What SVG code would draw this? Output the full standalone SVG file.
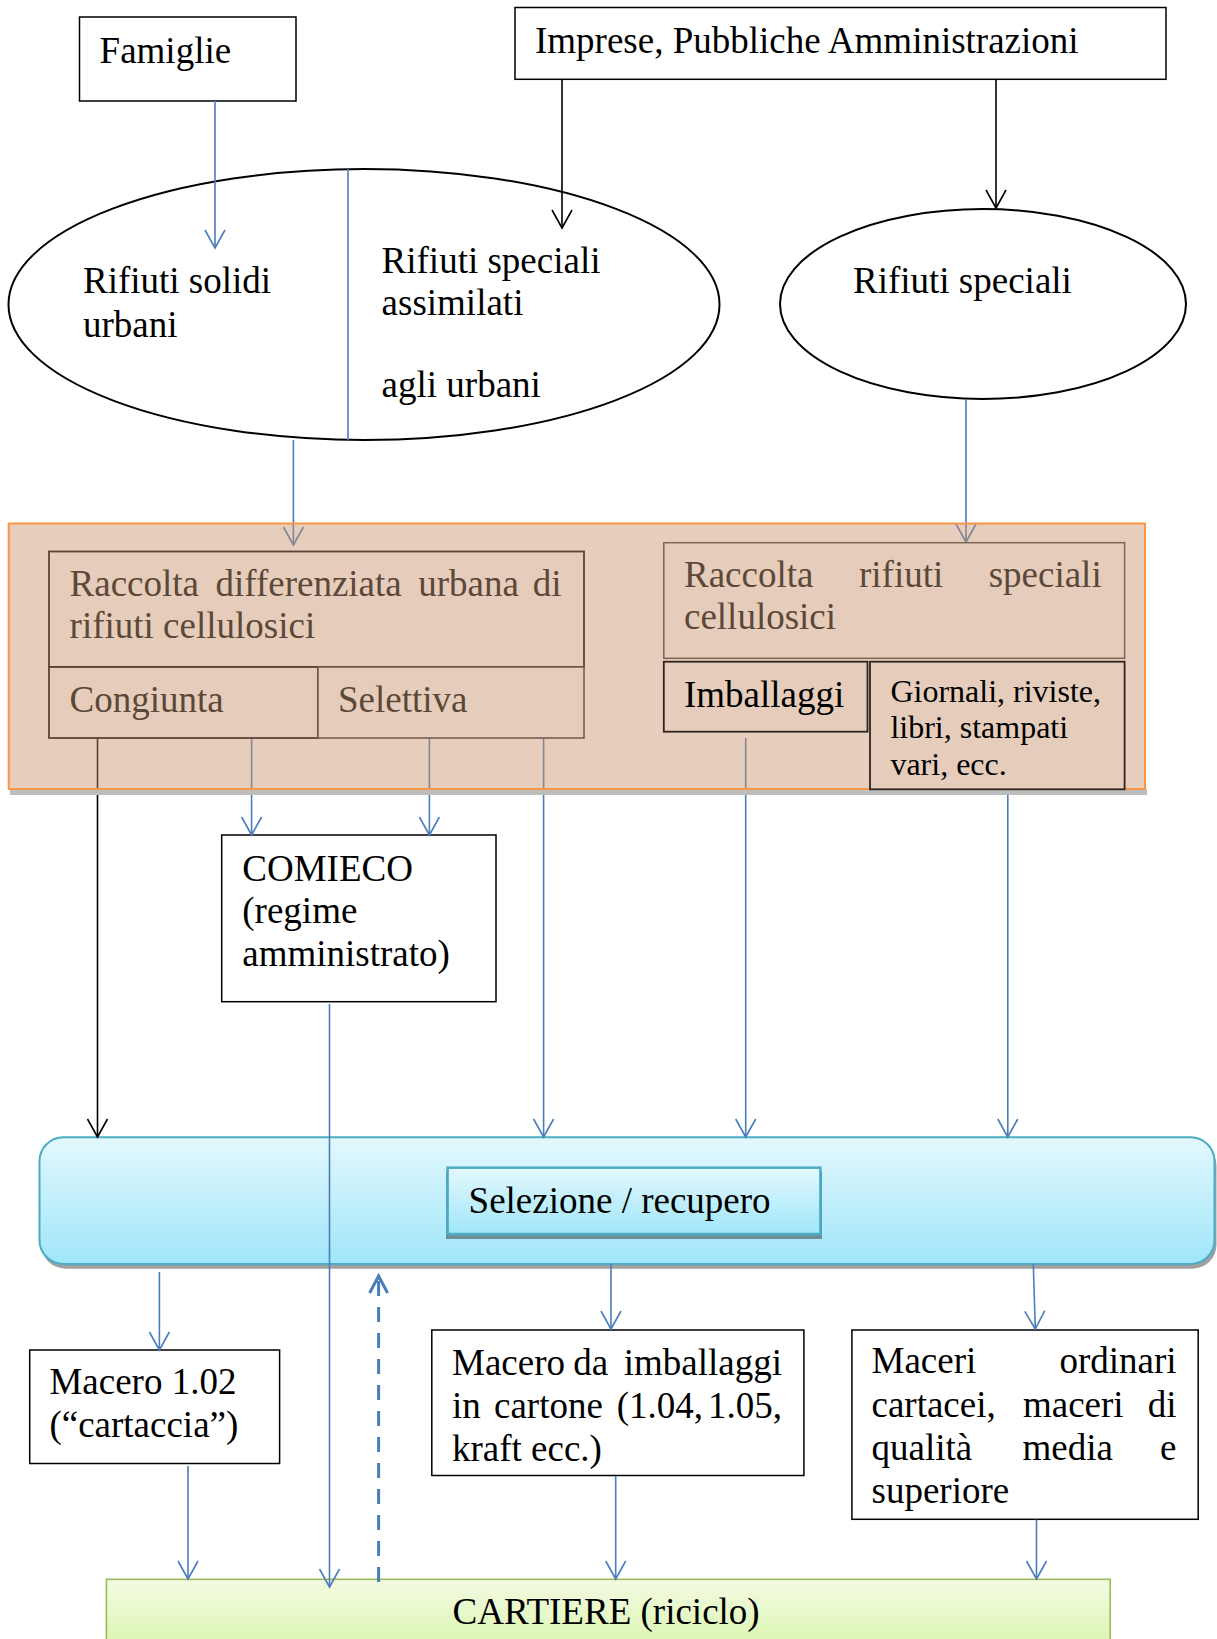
<svg xmlns="http://www.w3.org/2000/svg" width="1217" height="1639" viewBox="0 0 1217 1639">
<style>
text{font-family:"Liberation Serif","Times New Roman",serif;font-size:37px;fill:#000}
.br{fill:#5C4838}
.sm{font-size:32px}
.box{fill:#fff;stroke:#000;stroke-width:1.5}
.ell{fill:#fff;stroke:#000;stroke-width:2}
.blue{stroke:#4A7EBB;stroke-width:1.6;fill:none}
.blk{stroke:#000;stroke-width:1.6;fill:none}
</style>
<defs>
<marker id="ab" markerUnits="userSpaceOnUse" viewBox="-20 -12 22 24" refX="0" refY="0" markerWidth="22" markerHeight="24" orient="auto" overflow="visible"><path d="M-18,-10 L0,0 L-18,10" fill="none" stroke="#4A7EBB" stroke-width="1.6"/></marker>
<marker id="ak" markerUnits="userSpaceOnUse" viewBox="-20 -12 22 24" refX="0" refY="0" markerWidth="22" markerHeight="24" orient="auto" overflow="visible"><path d="M-18,-10 L0,0 L-18,10" fill="none" stroke="#000" stroke-width="1.6"/></marker>
<marker id="at" markerUnits="userSpaceOnUse" viewBox="-20 -12 22 24" refX="0" refY="0" markerWidth="22" markerHeight="24" orient="auto" overflow="visible"><path d="M-17,-9 L0,0 L-17,9" fill="none" stroke="#4A7EBB" stroke-width="3"/></marker>
<linearGradient id="gb" x1="0" y1="0" x2="0" y2="1"><stop offset="0" stop-color="#E3F8FD"/><stop offset="1" stop-color="#A0E6FA"/></linearGradient>
<linearGradient id="gg" x1="0" y1="0" x2="0" y2="1"><stop offset="0" stop-color="#F3FBE2"/><stop offset="1" stop-color="#DAF5AE"/></linearGradient>
</defs>

<g id="famiglie"><rect class="box" x="79.5" y="17" width="216.5" height="84"/><text x="99.6" y="62.7">Famiglie</text></g>
<g id="imprese"><rect class="box" x="515" y="7.5" width="651" height="71.8"/><text x="535" y="53.3">Imprese, Pubbliche Amministrazioni</text></g>

<g id="rifiuti-urbani">
<ellipse class="ell" cx="364" cy="304.5" rx="355.5" ry="135.5"/>
<line x1="348" y1="169" x2="348" y2="440" stroke="#4A7EBB" stroke-width="1.6"/>
<text x="83" y="293">Rifiuti solidi</text><text x="83" y="337">urbani</text>
<text x="381.6" y="273">Rifiuti speciali</text><text x="381.6" y="315">assimilati</text><text x="381.6" y="397">agli urbani</text>
</g>
<g id="rifiuti-speciali"><ellipse class="ell" cx="983" cy="304" rx="203" ry="95" stroke-width="1.5"/><text x="853" y="293">Rifiuti speciali</text></g>

<g id="comieco"><rect class="box" x="221.7" y="835" width="274.3" height="166.7"/>
<text x="242.3" y="881">COMIECO</text><text x="242.3" y="923.3">(regime</text><text x="242.3" y="965.7">amministrato)</text></g>

<g id="selezione">
<rect x="41.5" y="1142" width="1175" height="126.7" rx="24" fill="#A0A0A0"/>
<rect x="39.5" y="1137.3" width="1175" height="126.7" rx="24" fill="url(#gb)" stroke="#4BACC6" stroke-width="2"/>
<rect x="446" y="1172" width="376" height="67" fill="#6E8F9A"/>
<rect x="447.6" y="1167.7" width="372.8" height="66.3" fill="url(#gb)" stroke="#4BACC6" stroke-width="2.5"/>
<text x="468.6" y="1213.3">Selezione / recupero</text>
</g>

<g id="macero-102"><rect class="box" x="29.7" y="1350" width="249.9" height="113.5" stroke-width="2"/>
<text x="49.4" y="1394">Macero 1.02</text><text x="49.4" y="1436.7">(“cartaccia”)</text></g>

<g id="macero-imballaggi"><rect class="box" x="431.8" y="1330" width="372.1" height="145.5" stroke="#333"/>
<text x="452" y="1375">Macero</text><text x="573.3" y="1375">da</text><text x="782" y="1375" text-anchor="end">imballaggi</text>
<text x="452" y="1418.3">in</text><text x="494" y="1418.3">cartone</text><text x="616.7" y="1418.3">(1.04,</text><text x="782" y="1418.3" text-anchor="end">1.05,</text>
<text x="452" y="1460.5">kraft ecc.)</text></g>

<g id="maceri-ordinari"><rect class="box" x="851.9" y="1330" width="346.3" height="189.3" stroke="#333"/>
<text x="871.5" y="1373.3">Maceri</text><text x="1176.5" y="1373.3" text-anchor="end">ordinari</text>
<text x="871.5" y="1416.7">cartacei,</text><text x="1023" y="1416.7">maceri</text><text x="1176.5" y="1416.7" text-anchor="end">di</text>
<text x="871.5" y="1460">qualità</text><text x="1022.5" y="1460">media</text><text x="1176.5" y="1460" text-anchor="end">e</text>
<text x="871.5" y="1503">superiore</text></g>

<g id="cartiere"><rect x="106.4" y="1579.3" width="1003.8" height="70" fill="url(#gg)" stroke="#9BBB59" stroke-width="1.6"/>
<text x="452.6" y="1624">CARTIERE (riciclo)</text></g>

<g id="connectors">
<line class="blue" x1="215" y1="101" x2="215" y2="248" marker-end="url(#ab)"/>
<line class="blk" x1="562" y1="79.3" x2="562" y2="228" marker-end="url(#ak)"/>
<line class="blk" x1="996" y1="79.3" x2="996" y2="208" marker-end="url(#ak)"/>
<line class="blue" x1="293.4" y1="440" x2="293.4" y2="545" marker-end="url(#ab)"/>
<line class="blue" x1="966" y1="399" x2="966" y2="542" marker-end="url(#ab)"/>
<line class="blk" x1="97.5" y1="738" x2="97.5" y2="1137" marker-end="url(#ak)"/>
<line class="blue" x1="251.6" y1="738" x2="251.6" y2="835" marker-end="url(#ab)"/>
<line class="blue" x1="429.4" y1="738" x2="429.4" y2="835" marker-end="url(#ab)"/>
<line class="blue" x1="543.6" y1="738" x2="543.6" y2="1137" marker-end="url(#ab)"/>
<line class="blue" x1="745.7" y1="738" x2="745.7" y2="1137" marker-end="url(#ab)"/>
<line class="blue" x1="1007.8" y1="789" x2="1007.8" y2="1137" marker-end="url(#ab)"/>
<line class="blue" x1="329.5" y1="1004" x2="329.5" y2="1587" marker-end="url(#ab)"/>
<line x1="378.6" y1="1582" x2="378.6" y2="1276" stroke="#4A7EBB" stroke-width="3" stroke-dasharray="15,11" marker-end="url(#at)"/>
<line class="blue" x1="159.4" y1="1272" x2="159.4" y2="1350" marker-end="url(#ab)"/>
<line class="blue" x1="611" y1="1264" x2="611" y2="1329" marker-end="url(#ab)"/>
<line class="blue" x1="1033.3" y1="1264" x2="1035.3" y2="1329" marker-end="url(#ab)"/>
<line class="blue" x1="188" y1="1466" x2="188" y2="1579" marker-end="url(#ab)"/>
<line class="blue" x1="615.7" y1="1476" x2="615.7" y2="1579" marker-end="url(#ab)"/>
<line class="blue" x1="1036.5" y1="1519.5" x2="1036.5" y2="1579" marker-end="url(#ab)"/>
</g>

<g id="raccolta">
<rect x="10" y="789" width="1137" height="6" fill="#BDBDBD"/>
<rect x="8.7" y="523.5" width="1136.3" height="265.5" fill="#C7906A" fill-opacity="0.45" stroke="#F79646" stroke-width="2"/>
<g id="raccolta-urbana">
<rect x="49" y="551.5" width="535" height="115.5" fill="#E6CDBB" stroke="#5A4535" stroke-width="1.8"/>
<rect x="49" y="667" width="269" height="71" fill="#E6CDBB" stroke="#5A4535" stroke-width="1.8"/>
<rect x="318" y="667" width="266" height="71" fill="#E6CDBB" stroke="#6E5848" stroke-width="1.5"/>
<text class="br" x="69.6" y="596">Raccolta</text><text class="br" x="215.5" y="596">differenziata</text><text class="br" x="418.3" y="596">urbana</text><text class="br" x="561.5" y="596" text-anchor="end">di</text>
<text class="br" x="69.6" y="638">rifiuti cellulosici</text>
<text class="br" x="69.6" y="712">Congiunta</text><text class="br" x="338" y="712">Selettiva</text>
</g>
<g id="raccolta-speciali">
<rect x="663.8" y="542.7" width="460.8" height="115.6" fill="#E6CDBB" stroke="#7D6656" stroke-width="1.5"/>
<text class="br" x="684" y="587">Raccolta</text><text class="br" x="859" y="587">rifiuti</text><text class="br" x="1101.7" y="587" text-anchor="end">speciali</text>
<text class="br" x="684" y="629">cellulosici</text>
</g>
<g id="imballaggi"><rect x="663.8" y="661.7" width="203.7" height="70" fill="#E6CDBB" stroke="#2E2520" stroke-width="1.8"/><text x="684" y="706.7">Imballaggi</text></g>
<g id="giornali"><rect x="870" y="661.7" width="254.6" height="127.6" fill="#E6CDBB" stroke="#2E2520" stroke-width="1.8"/>
<text class="sm" x="890.4" y="701.7">Giornali, riviste,</text><text class="sm" x="890.4" y="738.3">libri, stampati</text><text class="sm" x="890.4" y="775">vari, ecc.</text></g>
</g>
</svg>
